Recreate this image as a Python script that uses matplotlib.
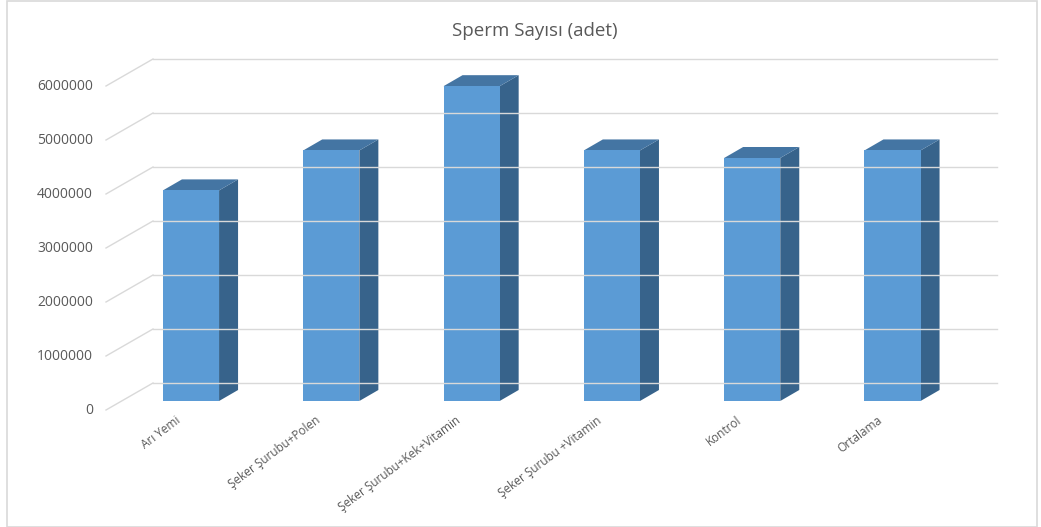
import matplotlib.pyplot as plt
from matplotlib.patches import Polygon, Rectangle

categories = ["Arı Yemi", "Şeker Şurubu+Polen", "Şeker Şurubu+Kek+Vitamin",
              "Şeker Şurubu +Vitamin", "Kontrol", "Ortalama"]
values = [3900000, 4640000, 5830000, 4640000, 4500000, 4640000]
yticks = [0, 1000000, 2000000, 3000000, 4000000, 5000000, 6000000]
title = "Sperm Sayısı (adet)"

plt.rcParams["font.family"] = ["Open Sans", "DejaVu Sans"]

W, H = 1041, 527
fig = plt.figure(figsize=(W / 100, H / 100), dpi=100)
ax = fig.add_axes([0, 0, 1, 1])
ax.axis("off")

# pixel scale of the bar plane
px_x = 140.3          # pixels per category
px_y = 54.0 / 1e6     # pixels per unit value
x0_px, y0_px = 191, 401  # centre of first bar front face, base line
ax.set_xlim((0 - x0_px) / px_x, (W - x0_px) / px_x)
ax.set_ylim((y0_px - H) / px_y, y0_px / px_y)


def off(dx, dy):
    # pixel offset -> data offset (dy positive = downwards)
    return dx / px_x, -dy / px_y


front = off(-85, 9)    # front edge of floor (where labels sit), x is left edge
back = off(-38, -18)   # back wall left edge
back_r = off(806, -18)  # back wall right edge
grid_col = "#D9D9D9"

for t in yticks:
    ax.plot([front[0], back[0]], [t + front[1], t + back[1]], color=grid_col, lw=1.0)
    ax.plot([back[0], back_r[0]], [t + back[1], t + back[1]], color=grid_col, lw=1.0)
    ax.text(front[0] + off(-13, 0)[0], t + front[1], f"{t}", ha="right", va="center",
            fontsize=10, color="#595959")

bw = 0.4
ddx, ddy = off(19, -11)
for i, v in enumerate(values):
    xl, xr = i - bw / 2, i + bw / 2
    ax.add_patch(Polygon([(xr, 0), (xr + ddx, ddy), (xr + ddx, v + ddy), (xr, v)],
                         closed=True, fc="#37638B", ec="none"))
    ax.add_patch(Polygon([(xl, v), (xr, v), (xr + ddx, v + ddy), (xl + ddx, v + ddy)],
                         closed=True, fc="#4475A3", ec="none"))
    ax.add_patch(Rectangle((xl, 0), bw, v, fc="#5B9BD5", ec="none"))
    lx, ly = off(-12, 18)
    ax.text(i + lx, ly, categories[i], rotation=37, rotation_mode="anchor",
            ha="right", va="center", fontsize=8.5, color="#595959")

fig.text(535 / W, 1 - 31 / H, title, ha="center", va="center", fontsize=13.5, color="#595959")
fig.add_artist(Rectangle((7 / W, 0.5 / H), 1030 / W, 1 - 1.5 / H, transform=fig.transFigure,
                         fill=False, ec="#D9D9D9", lw=1.2))

fig.savefig("out.png", dpi=100)
